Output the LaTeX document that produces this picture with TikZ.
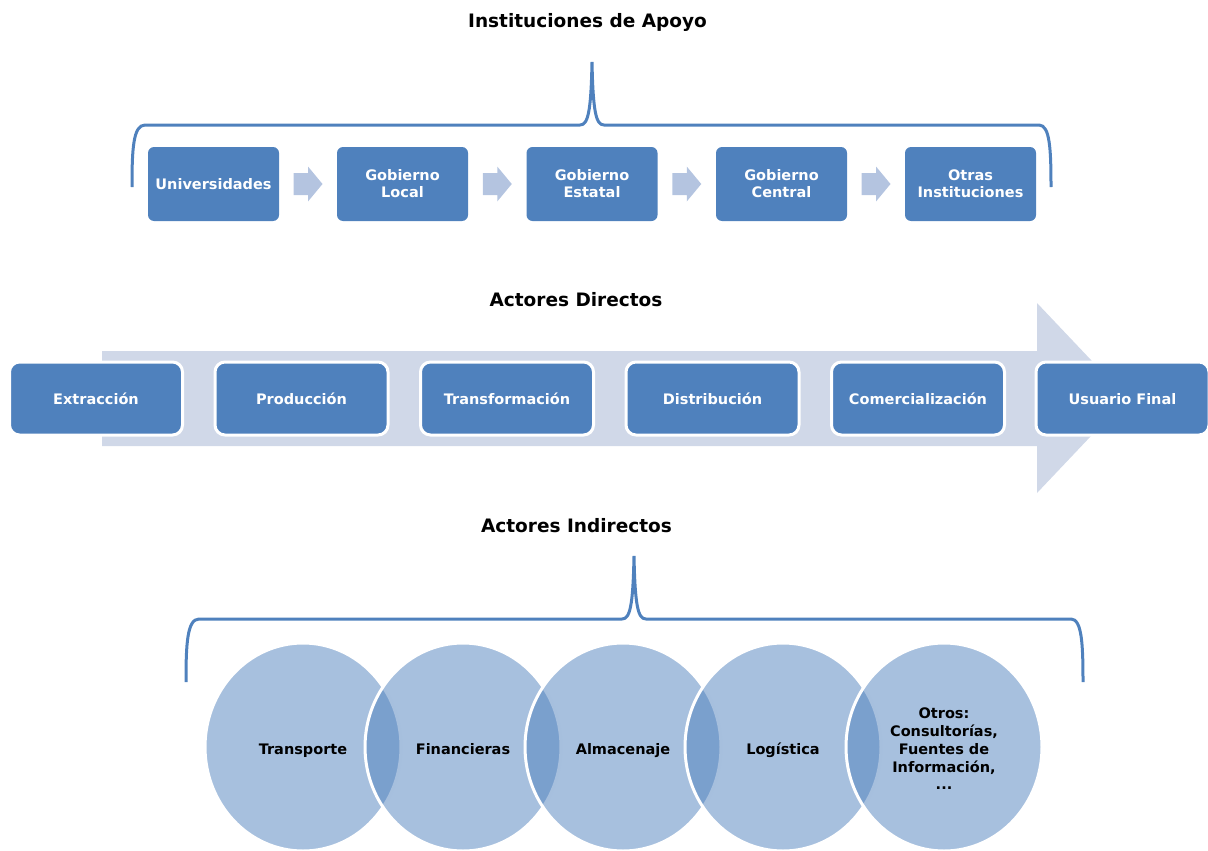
\documentclass[tikz,border=0pt]{standalone}
\usepackage{fontspec}
\setmainfont{DejaVu Sans}
\usetikzlibrary{shapes.geometric,calc}
\definecolor{accent}{HTML}{4F81BD}
\definecolor{arrowlt}{HTML}{B4C4E0}
\definecolor{bigarrow}{HTML}{D0D8E8}
\newcommand{\boxfont}{\fontsize{14.5}{17}\selectfont\bfseries}
\newcommand{\vennfont}{\fontsize{14.5}{17.8}\selectfont\bfseries}
\newcommand{\titlefont}{\fontsize{18.5}{22}\selectfont\bfseries}
\newcommand{\procarrow}[1]{%
  \fill[arrowlt] ($(#1)+(-14.5,-11)$) -- ++(14.5,0) -- ++(0,-6.5) -- ++(14.5,17.5)
    -- ++(-14.5,17.5) -- ++(0,-6.5) -- ++(-14.5,0) -- cycle;}
\begin{document}
\begin{tikzpicture}[x=1pt,y=-1pt,
  titletext/.style={font=\titlefont,text=black,inner sep=0pt},
  topbox/.style={rectangle,rounded corners=6pt,fill=accent,text=white,
    minimum width=131pt,minimum height=74pt,inner sep=0pt,align=center,font=\boxfont},
  midbox/.style={rectangle,rounded corners=10pt,fill=accent,draw=white,line width=3pt,
    text=white,minimum width=173pt,minimum height=73pt,inner sep=0pt,align=center,
    font=\boxfont,text height=12pt,text depth=1pt},
  venn/.style={ellipse,minimum width=196pt,minimum height=208pt,inner sep=0pt,
    fill=accent,fill opacity=0.5,text opacity=1,draw=white,line width=3pt,
    text=black,align=center,font=\vennfont},
  vennone/.style={venn,text height=14pt,text depth=0pt},
  venntext/.style={text=black,align=center,font=\vennfont,inner sep=0pt},
  brace/.style={draw=accent,line width=3pt}]
\useasboundingbox (0,0) rectangle (1208,851);

% ---------- Instituciones de Apoyo ----------
\node[titletext] (t1) at (587.5,22) {Instituciones de Apoyo};
\coordinate (b1tip) at (592,62);
\draw[brace] (132,187) .. controls (132,150) and (133,125) .. (145,125)
  -- (580,125) .. controls (588,125) and (591,112) .. (b1tip)
  .. controls (593,112) and (596,125) .. (604,125)
  -- (1039,125) .. controls (1050,125) and (1051,150) .. (1051,187);

\node[topbox] (u)  at (213.5,184) {Universidades};
\node[topbox] (gl) at (402.5,184) {Gobierno\\Local};
\node[topbox] (ge) at (592,184) {Gobierno\\Estatal};
\node[topbox] (gc) at (781.5,184) {Gobierno\\Central};
\node[topbox] (oi) at (970.5,184) {Otras\\Instituciones};

\coordinate (a1) at ($(u.east)!0.5!(gl.west)$);
\coordinate (a2) at ($(gl.east)!0.5!(ge.west)$);
\coordinate (a3) at ($(ge.east)!0.5!(gc.west)$);
\coordinate (a4) at ($(gc.east)!0.5!(oi.west)$);
\procarrow{a1}\procarrow{a2}\procarrow{a3}\procarrow{a4}

% ---------- Actores Directos ----------
\node[titletext] (t2) at (576,300) {Actores Directos};
\fill[bigarrow] (102,351) -- (1037,351) -- (1037,303) -- (1127,398)
  -- (1037,493) -- (1037,446) -- (102,446) -- cycle;

\node[midbox] (ex) at (96,398.5) {Extracción};
\node[midbox] (pr) at (301.5,398.5) {Producción};
\node[midbox] (tr) at (507,398.5) {Transformación};
\node[midbox] (di) at (712.5,398.5) {Distribución};
\node[midbox] (co) at (918,398.5) {Comercialización};
\node[midbox] (uf) at (1122.5,398.5) {Usuario Final};

% ---------- Actores Indirectos ----------
\node[titletext] (t3) at (576.5,526) {Actores Indirectos};
\coordinate (b2tip) at (634,556);
\draw[brace] (186,682) .. controls (186,645) and (187,619) .. (199,619)
  -- (622,619) .. controls (630,619) and (633,606) .. (b2tip)
  .. controls (635,606) and (638,619) .. (646,619)
  -- (1071,619) .. controls (1082,619) and (1083,645) .. (1083,682);

\node[vennone] (v1) at (303,747) {Transporte};
\node[vennone] (v2) at (463,747) {Financieras};
\node[vennone] (v3) at (623,747) {Almacenaje};
\node[vennone] (v4) at (783,747) {Logística};
\node[venn] (v5) at (944,747) {};
\node[venntext] (v5t) at ($(v5.center)+(0,2)$) {Otros:\\Consultorías,\\Fuentes de\\Información,\\...};
\end{tikzpicture}
\end{document}
